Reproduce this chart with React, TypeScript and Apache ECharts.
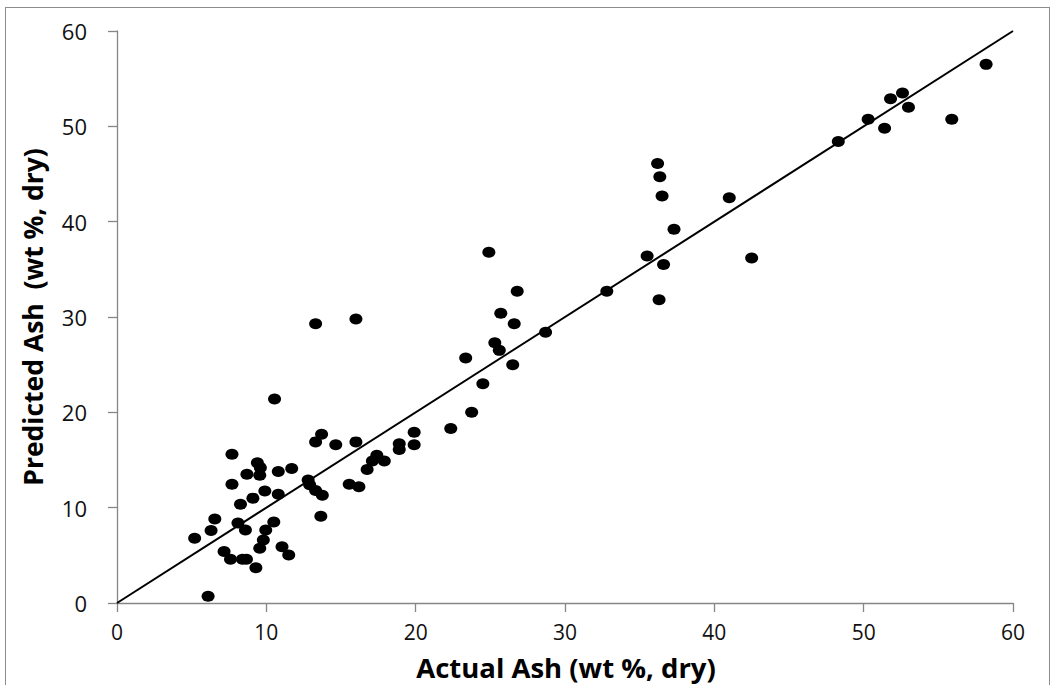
import React, { useEffect, useRef } from "react";
import * as echarts from "echarts";

const actualAsh = [
  5.2, 6.1, 6.3, 6.55, 7.17, 7.6, 7.7, 7.7, 8.1, 8.27, 8.4, 8.67, 8.6, 8.7, 9.1, 9.3, 9.4, 9.56, 9.6, 9.56,
  9.8, 9.9, 9.96, 10.5, 10.55, 10.8, 10.8, 11.05, 11.5, 11.7, 12.8, 12.9, 13.3, 13.75, 13.65, 13.3, 13.3, 13.7,
  14.65, 16.0, 16.0, 15.55, 16.2, 16.75, 17.1, 17.4, 17.9, 18.9, 18.9, 19.9, 19.9, 22.35, 23.35, 23.75, 24.5,
  24.9, 25.3, 25.6, 25.7, 26.5, 26.6, 26.8, 28.7, 32.8, 35.5, 36.2, 36.35, 36.5, 36.6, 36.3, 37.3, 41.0, 42.5,
  48.3, 50.3, 51.4, 51.8, 52.6, 53.0, 55.9, 58.2,
];
const predictedAsh = [
  6.8, 0.7, 7.6, 8.8, 5.4, 4.6, 12.45, 15.6, 8.4, 10.35, 4.6, 4.6, 7.66, 13.5, 11.0, 3.7, 14.7, 13.4, 14.2, 5.74,
  6.6, 11.75, 7.66, 8.5, 21.4, 13.8, 11.4, 5.9, 5.04, 14.1, 12.9, 12.4, 11.8, 11.3, 9.1, 29.3, 16.9, 17.7,
  16.6, 16.9, 29.8, 12.45, 12.2, 14.0, 14.9, 15.5, 14.9, 16.7, 16.1, 17.9, 16.6, 18.3, 25.7, 20.0, 23.0,
  36.8, 27.3, 26.5, 30.4, 25.0, 29.3, 32.7, 28.4, 32.7, 36.4, 46.1, 44.7, 42.7, 35.5, 31.8, 39.2, 42.5, 36.2,
  48.4, 50.75, 49.8, 52.9, 53.5, 52.0, 50.75, 56.5,
];
const lineX = [0, 60];
const lineY = [0, 60];
const xTitle = "Actual Ash (wt %, dry)";
const yTitle = "Predicted Ash  (wt %, dry)";

const FONT = "'Open Sans', sans-serif";

export default function App() {
  const ref = useRef<HTMLDivElement>(null);
  useEffect(() => {
    if (!ref.current) return;
    const chart = echarts.init(ref.current, undefined, { renderer: "svg" });
    const axisCommon = {
      type: "value",
      min: 0,
      max: 60,
      interval: 10,
      splitLine: { show: false },
      axisLine: { show: true, lineStyle: { color: "#868686", width: 1.3 } },
      axisTick: { show: true, inside: false, length: 9, lineStyle: { color: "#868686", width: 1.3 } },
      axisLabel: { color: "#111", fontSize: 22, fontFamily: FONT },
    };
    chart.setOption({
      animation: false,
      grid: { left: 117, right: 42, top: 31, bottom: 82 },
      xAxis: { ...axisCommon, axisLabel: { ...axisCommon.axisLabel, fontSize: 21, margin: 18 } },
      yAxis: { ...axisCommon, axisLabel: { ...axisCommon.axisLabel, margin: 30 } },
      graphic: [
        {
          type: "text",
          x: 566,
          y: 667,
          style: {
            text: xTitle,
            fontSize: 27.5,
            fontWeight: "bold",
            fontFamily: FONT,
            fill: "#000",
            align: "center",
            verticalAlign: "middle",
          },
        },
        {
          type: "text",
          x: 33,
          y: 317,
          rotation: Math.PI / 2,
          style: {
            text: yTitle,
            fontSize: 26.5,
            fontWeight: "bold",
            fontFamily: FONT,
            fill: "#000",
            align: "center",
            verticalAlign: "middle",
          },
        },
      ],
      series: [
        {
          type: "line",
          data: lineX.map((x, i) => [x, lineY[i]]),
          symbol: "none",
          lineStyle: { color: "#000", width: 2 },
          z: 1,
        },
        {
          type: "scatter",
          data: actualAsh.map((x, i) => [x, predictedAsh[i]]),
          symbol: "circle",
          symbolSize: [13, 11],
          itemStyle: { color: "#000", opacity: 1 },
          z: 2,
        },
      ],
    });
    return () => chart.dispose();
  }, []);
  return (
    <div
      style={{
        position: "fixed",
        left: 0,
        top: 0,
        width: 1055,
        height: 685,
        overflow: "hidden",
        background: "#fff",
      }}
    >
      <div
        style={{
          position: "absolute",
          left: 5,
          top: 7,
          width: 1045,
          height: 700,
          border: "1px solid #8c8c8c",
          boxSizing: "border-box",
        }}
      />
      <div ref={ref} style={{ position: "absolute", left: 0, top: 0, width: 1055, height: 685 }} />
    </div>
  );
}
